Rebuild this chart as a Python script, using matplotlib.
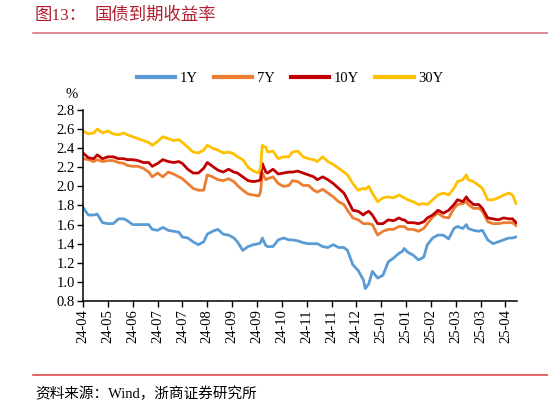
import matplotlib
matplotlib.use("Agg")
import matplotlib.pyplot as plt
from matplotlib.lines import Line2D

# trading-day index of each reading
days = [0, 3, 6, 8, 11, 14, 17, 20, 23, 25, 28, 31, 34, 37, 39, 42, 45, 48, 51, 54, 56, 59, 62,
        65, 68, 70, 73, 76, 79, 82, 85, 87, 90, 93, 96, 99, 100, 101, 103, 104, 107, 110, 113, 116, 118, 121, 124,
        127, 130, 132, 135, 138, 141, 144, 147, 149, 152, 155, 158, 159, 161, 163, 166, 169, 172, 175, 178, 180, 181, 183, 186,
        189, 192, 194, 197, 200, 203, 206, 209, 211, 214, 216, 217, 220, 223, 225, 228, 231, 234, 237, 240, 242, 244]

y1 = [1.78, 1.70, 1.70, 1.71, 1.62, 1.61, 1.61, 1.66, 1.66, 1.64, 1.60, 1.60, 1.60, 1.60, 1.55, 1.54, 1.57, 1.54, 1.53, 1.52, 1.47, 1.46, 1.42,
      1.39, 1.42, 1.50, 1.53, 1.55, 1.50, 1.49, 1.46, 1.42, 1.33, 1.37, 1.39, 1.40, 1.41, 1.46, 1.38, 1.37, 1.37, 1.44, 1.46, 1.44, 1.44, 1.43, 1.41,
      1.40, 1.40, 1.40, 1.37, 1.36, 1.39, 1.36, 1.36, 1.33, 1.18, 1.12, 1.02, 0.93, 0.98, 1.11, 1.04, 1.07, 1.21, 1.25, 1.30, 1.32, 1.35, 1.31, 1.28,
      1.23, 1.26, 1.39, 1.46, 1.49, 1.49, 1.45, 1.56, 1.58, 1.56, 1.60, 1.56, 1.54, 1.53, 1.54, 1.44, 1.40, 1.42, 1.44, 1.46, 1.46, 1.47]

y7 = [2.29, 2.28, 2.26, 2.28, 2.26, 2.27, 2.27, 2.25, 2.24, 2.22, 2.21, 2.21, 2.19, 2.15, 2.10, 2.14, 2.10, 2.15, 2.13, 2.10, 2.08, 2.03, 1.98,
      1.96, 1.96, 2.12, 2.10, 2.07, 2.06, 2.08, 2.05, 2.01, 1.96, 1.92, 1.91, 1.90, 1.94, 2.14, 2.07, 2.08, 2.10, 2.03, 2.00, 2.01, 2.06, 2.05, 2.01,
      2.01, 1.96, 1.94, 1.97, 1.93, 1.89, 1.84, 1.81, 1.75, 1.67, 1.65, 1.61, 1.61, 1.61, 1.60, 1.49, 1.53, 1.55, 1.55, 1.58, 1.58, 1.58, 1.55, 1.55,
      1.53, 1.56, 1.61, 1.68, 1.72, 1.68, 1.67, 1.77, 1.81, 1.82, 1.84, 1.81, 1.77, 1.77, 1.74, 1.63, 1.61, 1.61, 1.62, 1.62, 1.62, 1.59]

y10 = [2.35, 2.30, 2.29, 2.33, 2.29, 2.31, 2.31, 2.29, 2.29, 2.28, 2.28, 2.27, 2.25, 2.25, 2.21, 2.24, 2.28, 2.26, 2.25, 2.26, 2.24, 2.18, 2.14,
       2.14, 2.19, 2.25, 2.21, 2.17, 2.15, 2.18, 2.15, 2.14, 2.10, 2.06, 2.05, 2.06, 2.07, 2.24, 2.15, 2.14, 2.18, 2.13, 2.14, 2.15, 2.15, 2.16, 2.14,
       2.12, 2.10, 2.07, 2.10, 2.07, 2.03, 1.98, 1.93, 1.86, 1.75, 1.74, 1.70, 1.72, 1.74, 1.70, 1.61, 1.61, 1.65, 1.64, 1.67, 1.65, 1.65, 1.62, 1.62,
       1.61, 1.63, 1.67, 1.70, 1.75, 1.72, 1.75, 1.81, 1.86, 1.84, 1.89, 1.86, 1.81, 1.81, 1.77, 1.67, 1.66, 1.65, 1.67, 1.66, 1.66, 1.62]

y30 = [2.58, 2.55, 2.56, 2.60, 2.56, 2.58, 2.55, 2.54, 2.56, 2.54, 2.52, 2.50, 2.48, 2.46, 2.43, 2.47, 2.52, 2.50, 2.48, 2.49, 2.46, 2.41, 2.36,
       2.35, 2.38, 2.43, 2.40, 2.38, 2.35, 2.36, 2.34, 2.31, 2.28, 2.20, 2.16, 2.14, 2.19, 2.43, 2.41, 2.36, 2.37, 2.29, 2.31, 2.31, 2.36, 2.37, 2.31,
       2.29, 2.28, 2.26, 2.31, 2.26, 2.23, 2.19, 2.15, 2.12, 2.03, 1.96, 1.98, 1.97, 2.00, 1.93, 1.84, 1.88, 1.89, 1.88, 1.91, 1.89, 1.88, 1.86, 1.84,
       1.81, 1.82, 1.81, 1.86, 1.91, 1.93, 1.91, 1.98, 2.05, 2.07, 2.12, 2.07, 2.05, 2.01, 1.98, 1.86, 1.86, 1.88, 1.91, 1.93, 1.91, 1.82]

tick_labels = ["24-04", "24-05", "24-06", "24-07", "24-07", "24-08", "24-09", "24-09", "24-10",
               "24-11", "24-11", "24-12", "25-01", "25-01", "25-02", "25-03", "25-03", "25-04"]
tick_step = 14

series = [("1Y", y1, "#5B9BD5"), ("7Y", y7, "#ED7D31"), ("10Y", y10, "#C00000"), ("30Y", y30, "#FFC000")]

serif = ["Liberation Serif", "DejaVu Serif"]
cjk = ["Liberation Serif", "Noto Sans CJK SC", "DejaVu Sans"]

fig = plt.figure(figsize=(5.48, 4.01), dpi=100)
ax = fig.add_axes([0.1515, 0.2494, 0.7919, 0.4763])

for name, vals, col in series:
    ax.plot(days, vals, color=col, lw=2.0, label=name)

ax.set_xlim(0, 244.5)
ax.set_ylim(0.8, 2.8)
ax.set_yticks([0.8 + 0.2 * i for i in range(11)])
ax.set_yticklabels(["%.1f" % (0.8 + 0.2 * i) for i in range(11)], family=serif, fontsize=10.5)
ax.set_xticks([i * tick_step for i in range(len(tick_labels))])
ax.set_xticklabels(tick_labels, rotation=90, family=serif, fontsize=10.5)
ax.tick_params(axis="both", direction="out", length=4, width=1, color="black", pad=2)
for s in ["top", "right"]:
    ax.spines[s].set_visible(False)
for s in ["left", "bottom"]:
    ax.spines[s].set_linewidth(1.1)

handles = [Line2D([], [], color=c, lw=3) for _, _, c in series]
fig.legend(handles, [n for n, _, _ in series], loc="center", bbox_to_anchor=(290 / 548, 1 - 78 / 401),
           ncol=4, frameon=False, handlelength=2.65, handletextpad=0.3, columnspacing=1.1,
           prop={"family": serif, "size": 10.5})

fig.text(72 / 548, 1 - 94 / 401, "%", family=serif, fontsize=10.5, ha="center", va="center")

fig.text(35 / 548, 1 - 16 / 401, "图13：", family=cjk, fontsize=12.5, color="#B01E2F", va="center")
fig.text(94 / 548, 1 - 16 / 401, "国债到期收益率", family=cjk, fontsize=12.5, color="#B01E2F", va="center")
fig.add_artist(Line2D([33 / 548, 1], [1 - 33 / 401, 1 - 33 / 401], color="#D36A70", lw=1.1))
fig.add_artist(Line2D([33 / 548, 1], [1 - 375 / 401, 1 - 375 / 401], color="#E03A3A", lw=1.1))
fig.text(35 / 548, 1 - 394 / 401, "资料来源：Wind，浙商证券研究所", family=cjk, fontsize=10.5, va="center")

fig.savefig("out.png", dpi=100)
